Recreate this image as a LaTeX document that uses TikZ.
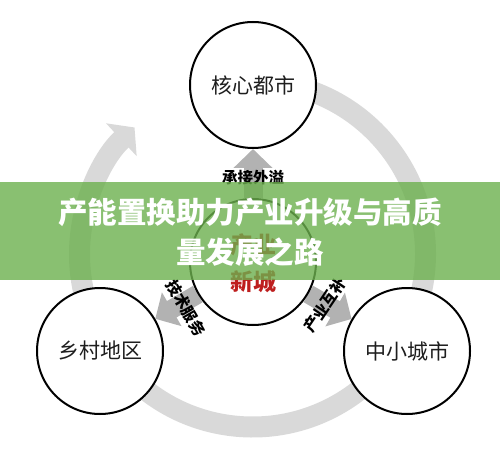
\documentclass[tikz,border=0pt]{standalone}
\usepackage{fontspec}
\setmainfont{Noto Sans CJK SC}
\usetikzlibrary{arrows.meta,backgrounds}
\definecolor{ringgray}{RGB}{217,217,217}
\definecolor{arrgray}{RGB}{178,178,178}
\definecolor{bandgreen}{RGB}{108,176,78}
\definecolor{cityred}{RGB}{190,30,30}
\definecolor{labelink}{RGB}{30,30,30}
\tikzset{
  city/.style={circle,draw=black,line width=2pt,fill=white,minimum size=126pt,inner sep=0pt,
    font=\fontsize{21}{24}\selectfont,text=labelink},
  flow/.style={draw=arrgray,line width=19pt,-{Triangle[width=38pt,length=19pt]}},
  flowlabel/.style={font=\bfseries\fontsize{15.5}{17}\selectfont,text=black,inner sep=0pt},
  core/.style={font=\bfseries\fontsize{23}{25}\selectfont,text=cityred,inner sep=0pt},
  title/.style={font=\bfseries\fontsize{29.5}{32}\selectfont,text=white,inner sep=0pt}
}
\begin{document}
\begin{tikzpicture}[x=1pt,y=-1pt]
\useasboundingbox (0,0) rectangle (500,462);
\coordinate (ringc) at (252.5,254);
% circles
\node[city] (top) at (253,85) {核心都市};
\node[city] (left) at (100,351) {乡村地区};
\node[city] (right) at (407,351) {中小城市};
\node[city] (c) at (253,262) {};
\begin{scope}[on background layer]
  \draw[ringgray,line width=21pt,-{Triangle[width=44pt,length=18pt]}]
    ([shift={(275:173)}]ringc) arc[start angle=275,end angle=587,radius=173];
  \draw[flow] (c) -- (top);
  \draw[flow] (c) -- (left);
  \draw[flow] (c) -- (right);
\end{scope}
% core text
\node[core] (cy) at (253,245) {产业};
\node[core] (cx) at (253,282) {新城};
% flow labels
\node[flowlabel] (l1) at (253,178) {承接外溢};
\node[flowlabel,rotate=-60] (l2) at (186,308) {技术服务};
\node[flowlabel,rotate=56] (l3) at (325,305) {产业互补};
% band
\fill[bandgreen,opacity=0.8] (0,182.5) rectangle (500,279.5);
\node[title] (t1) at (250,212) {产能置换助力产业升级与高质};
\node[title] (t2) at (250,252) {量发展之路};
\end{tikzpicture}
\end{document}
